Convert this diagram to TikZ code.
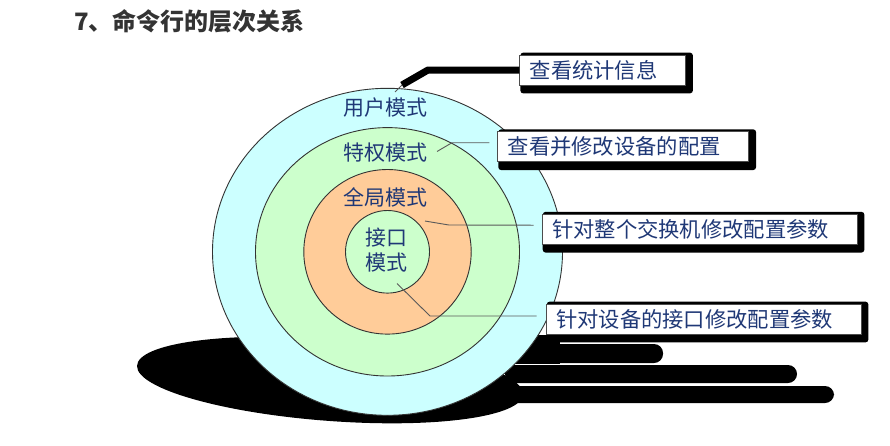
\documentclass[tikz,border=0pt]{standalone}
\usepackage{fontspec}
\usepackage{tikz}
\usetikzlibrary{calc,positioning}
\newfontfamily\cjk{Noto Sans CJK SC}
\definecolor{usercyan}{RGB}{204,255,255}
\definecolor{privgreen}{RGB}{204,255,204}
\definecolor{globorange}{RGB}{255,204,153}
\definecolor{labelblue}{RGB}{31,56,118}
\definecolor{titlegray}{RGB}{51,51,51}
\pgfdeclarelayer{ground}
\pgfdeclarelayer{shade}
\pgfsetlayers{ground,shade,main}

\begin{document}
\begin{tikzpicture}[x=1pt, y=-1pt,
  ring/.style={draw=black!80, line width=0.9pt},
  ringlabel/.style={text=labelblue, font=\cjk\fontsize{21}{25}\selectfont, inner sep=0pt, align=center},
  infobox/.style={draw=black!70, fill=white, line width=0.8pt, anchor=west, minimum height=30pt,
    inner xsep=0pt, inner ysep=0pt, text=labelblue, font=\cjk\fontsize{21.3}{25}\selectfont,
    execute at begin node={\hspace*{10pt}}, execute at end node={\hspace*{28pt}}},
  boxshadow/.style={fill=black, rounded corners=3pt},
  leader/.style={draw=black!65, line width=0.9pt},
  heavylead/.style={draw=black, line width=7pt, line join=round}]
  \useasboundingbox (0,0) rectangle (890,445);

  \node[anchor=west, inner sep=0pt, text=titlegray, font=\cjk\bfseries\fontsize{24}{28}\selectfont] (title) at (74,21) {7、命令行的层次关系};

  \begin{pgfonlayer}{ground}
    % black shadow under the rings
    \fill[shift={(330,380)}, yslant=-0.072] (0,0) ellipse [x radius=193pt, y radius=41pt];
    \fill (505,335) rectangle (560,364);
    \fill[rounded corners=9pt] (550,344) rectangle (663,363);
    \fill[rounded corners=9pt] (505,365) rectangle (797,383);
    \fill[rounded corners=9pt] (505,386) rectangle (834,403);

    \coordinate (hub) at (387.5,251.8);
    \path[ring, fill=usercyan] (hub) ellipse [x radius=175pt, y radius=163.5pt];
    \path[ring, fill=privgreen] (hub) ellipse [x radius=132pt, y radius=124.2pt];
    \path[ring, fill=globorange] (hub) ellipse [x radius=83.7pt, y radius=82.3pt];
    \path[ring, fill=privgreen] (hub) ellipse [x radius=42pt, y radius=41.3pt];

    \node[ringlabel] (user) at (385,107.5) {用户模式};
    \node[ringlabel] (priv) at (385,152.5) {特权模式};
    \node[ringlabel] (glob) at (385,197.5) {全局模式};
    \node[ringlabel] (intf) at (386,250) {接口\\模式};
  \end{pgfonlayer}

  \node[infobox] (stats) at (519.3,70) {查看统计信息};
  \node[infobox] (cfg) at (497.3,146.7) {查看并修改设备的配置};
  \node[infobox] (switch) at (541.7,229.2) {针对整个交换机修改配置参数};
  \node[infobox] (port) at (545.7,319) {针对设备的接口修改配置参数};

  \begin{pgfonlayer}{shade}
    \foreach \b in {stats,cfg,switch,port}
      \fill[boxshadow] ($(\b.north west)+(1,-2)$) rectangle ($(\b.south east)+(7,8)$);
  \end{pgfonlayer}

  % leaders from the rings to the boxes
  \coordinate (userpin) at (395,92);
  \coordinate (userfoot) at (402,85);
  \coordinate (userknee) at (428,70);
  \draw[heavylead] (userfoot) -- (userknee) -- (stats.west);
  \draw[leader] (userpin) -- (userfoot);
  \coordinate (privpin) at (437,151.5);
  \draw[leader] (privpin) -- (452,142.7) -- ($(cfg.west)+(-8,-4)$);
  \coordinate (globpin) at (425,221);
  \draw[leader] (globpin) -- (449,225) -- ($(switch.west)+(-8,-4)$);
  \coordinate (intfpin) at (397,283.5);
  \draw[leader] (intfpin) -- (430,316) -- ($(port.west)+(-9,-3)$);
\end{tikzpicture}
\end{document}
